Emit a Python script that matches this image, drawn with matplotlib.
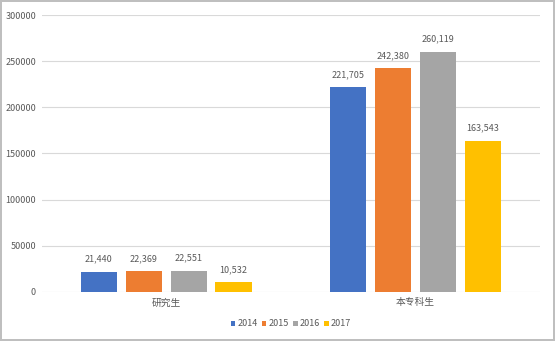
import numpy as np
import matplotlib
matplotlib.use('Agg')
import matplotlib.pyplot as plt

plt.rcParams['font.family'] = ['Noto Sans CJK SC', 'DejaVu Sans']

categories = ["研究生", "本专科生"]
years = ["2014", "2015", "2016", "2017"]
values = {
    "2014": [21440, 221705],
    "2015": [22369, 242380],
    "2016": [22551, 260119],
    "2017": [10532, 163543],
}
colors = ['#4472C4', '#ED7D31', '#A5A5A5', '#FFC000']
yticks = [0, 50000, 100000, 150000, 200000, 250000, 300000]

fig = plt.figure(figsize=(5.55, 3.41), dpi=100)
fig.patch.set_facecolor('white')
fig.patch.set_edgecolor('#BFBFBF')
fig.patch.set_linewidth(1.5)
ax = fig.add_axes([0.075, 0.144, 0.898, 0.812])

x = np.arange(len(categories))
step = 0.18
width = 0.145
for i, (yr, c) in enumerate(zip(years, colors)):
    pos = x + (i - 1.5) * step
    bars = ax.bar(pos, values[yr], width, color=c, label=yr, zorder=3)
    for b, v in zip(bars, values[yr]):
        ax.text(b.get_x() + b.get_width() / 2, v + 9000, f'{v:,}',
                ha='center', va='bottom', fontsize=6.5, color='#595959')

ax.set_xlim(-0.5, 1.5)
ax.set_ylim(0, 300000)
ax.set_yticks(yticks)
ax.set_yticklabels([str(t) for t in yticks], fontsize=6.5, color='#595959')
ax.set_xticks(x)
ax.set_xticklabels(categories, fontsize=7, color='#595959')
ax.tick_params(length=0, pad=4)
ax.grid(axis='y', color='#D9D9D9', linewidth=0.8, zorder=0)
for s in ax.spines.values():
    s.set_visible(False)

ax.legend(loc='upper center', bbox_to_anchor=(0.5, -0.07), ncol=4, frameon=False,
          fontsize=6.5, handlelength=0.5, handleheight=0.5, handletextpad=0.2,
          columnspacing=0.5, labelcolor='#595959')

fig.savefig('out.png', dpi=100)
